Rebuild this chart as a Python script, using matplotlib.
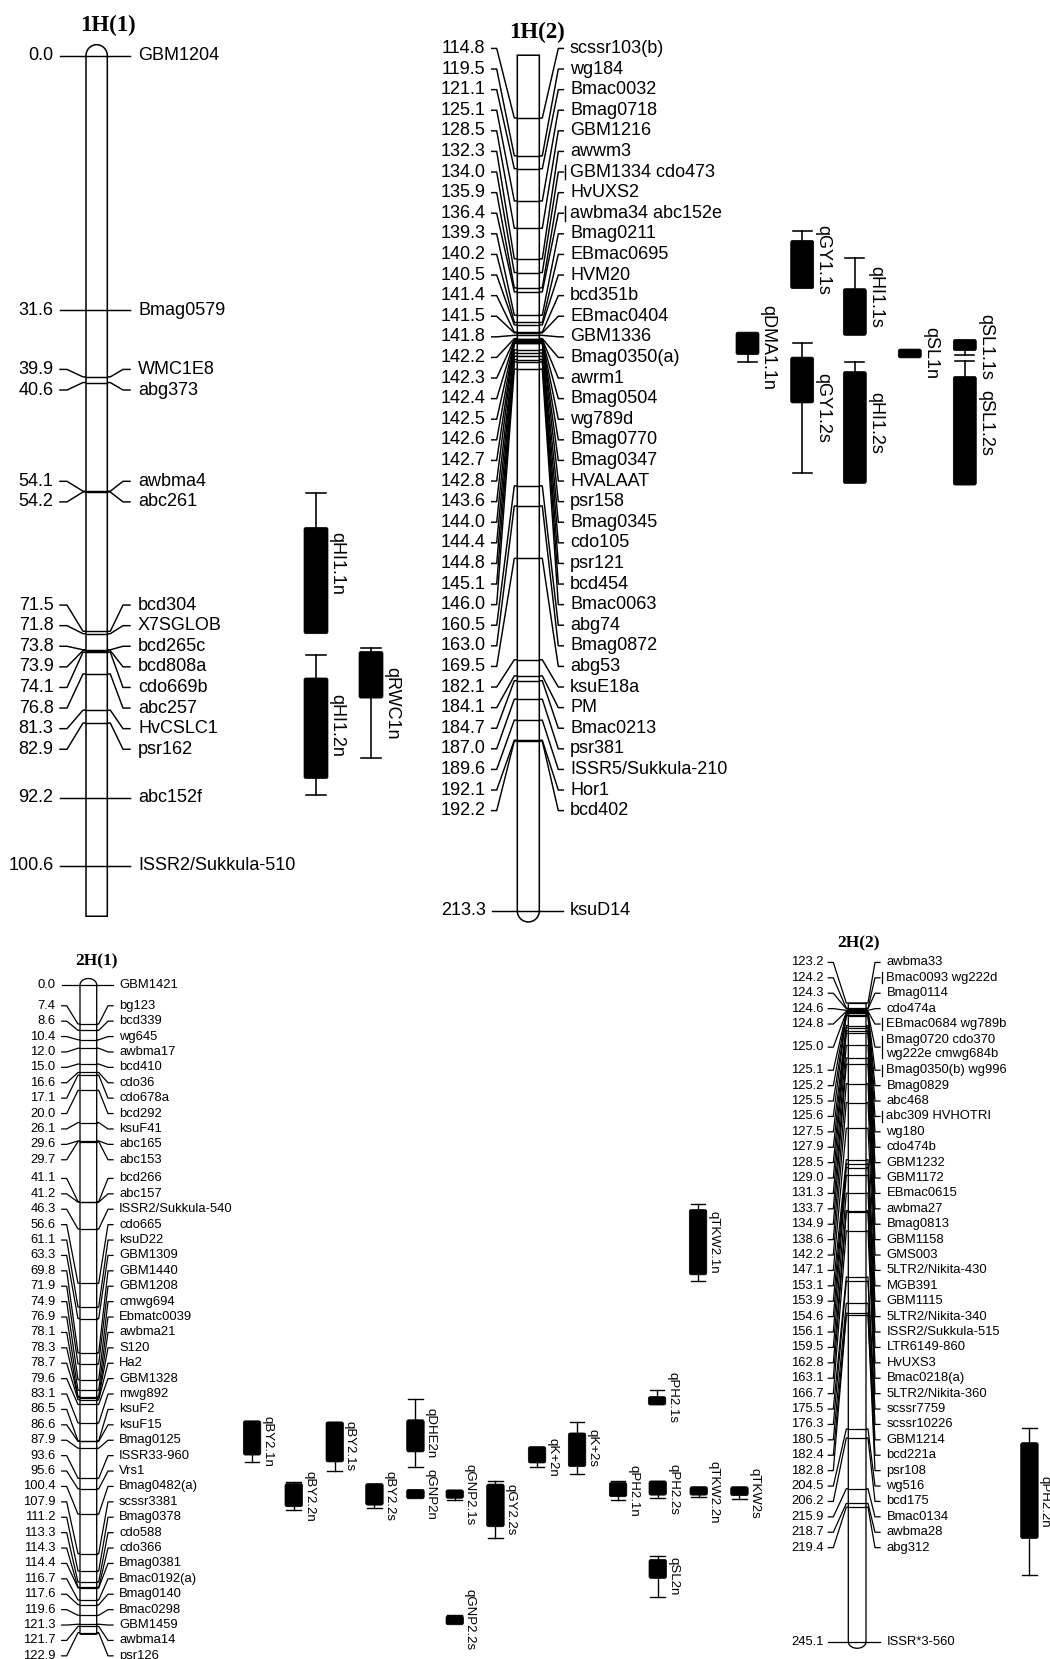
import numpy as np
import matplotlib
matplotlib.use("Agg")
import matplotlib.pyplot as plt
from matplotlib.patches import Polygon, FancyBboxPatch

plt.rcParams["font.family"] = ["Liberation Sans", "DejaVu Sans"]

# ================================
# 1. MARKER DATA (cM, name)
# ================================
h1a_pos = [0.0, 31.6, 39.9, 40.6, 54.1, 54.2, 71.5, 71.8, 73.8, 73.9, 74.1,
           76.8, 81.3, 82.9, 92.2, 100.6]
h1a_names = ["GBM1204", "Bmag0579", "WMC1E8", "abg373", "awbma4", "abc261",
             "bcd304", "X7SGLOB", "bcd265c", "bcd808a", "cdo669b", "abc257",
             "HvCSLC1", "psr162", "abc152f", "ISSR2/Sukkula-510"]

h1b_pos = [114.8, 119.5, 121.1, 125.1, 128.5, 132.3, 134.0, 135.9, 136.4, 139.3,
           140.2, 140.5, 141.4, 141.5, 141.8, 142.2, 142.3, 142.4, 142.5, 142.6,
           142.7, 142.8, 143.6, 144.0, 144.4, 144.8, 145.1, 146.0, 160.5, 163.0,
           169.5, 182.1, 184.1, 184.7, 187.0, 189.6, 192.1, 192.2, 213.3]
h1b_names = ["scssr103(b)", "wg184", "Bmac0032", "Bmag0718", "GBM1216", "awwm3",
             "GBM1334 cdo473", "HvUXS2", "awbma34 abc152e", "Bmag0211",
             "EBmac0695", "HVM20", "bcd351b", "EBmac0404", "GBM1336",
             "Bmag0350(a)", "awrm1", "Bmag0504", "wg789d", "Bmag0770",
             "Bmag0347", "HVALAAT", "psr158", "Bmag0345", "cdo105", "psr121",
             "bcd454", "Bmac0063", "abg74", "Bmag0872", "abg53", "ksuE18a", "PM",
             "Bmac0213", "psr381", "ISSR5/Sukkula-210", "Hor1", "bcd402", "ksuD14"]

h2a_pos = [0.0, 7.4, 8.6, 10.4, 12.0, 15.0, 16.6, 17.1, 20.0, 26.1, 29.6, 29.7,
           41.1, 41.2, 46.3, 56.6, 61.1, 63.3, 69.8, 71.9, 74.9, 76.9, 78.1, 78.3,
           78.7, 79.6, 83.1, 86.5, 86.6, 87.9, 93.6, 95.6, 100.4, 107.9, 111.2,
           113.3, 114.3, 114.4, 116.7, 117.6, 119.6, 121.3, 121.7, 122.9]
h2a_names = ["GBM1421", "bg123", "bcd339", "wg645", "awbma17", "bcd410", "cdo36",
             "cdo678a", "bcd292", "ksuF41", "abc165", "abc153", "bcd266", "abc157",
             "ISSR2/Sukkula-540", "cdo665", "ksuD22", "GBM1309", "GBM1440",
             "GBM1208", "cmwg694", "Ebmatc0039", "awbma21", "S120", "Ha2",
             "GBM1328", "mwg892", "ksuF2", "ksuF15", "Bmag0125", "ISSR33-960",
             "Vrs1", "Bmag0482(a)", "scssr3381", "Bmag0378", "cdo588", "cdo366",
             "Bmag0381", "Bmac0192(a)", "Bmag0140", "Bmac0298", "GBM1459",
             "awbma14", "psr126"]

h2b_pos = [123.2, 124.2, 124.3, 124.6, 124.8, 125.0, 125.1, 125.2, 125.5, 125.6,
           127.5, 127.9, 128.5, 129.0, 131.3, 133.7, 134.9, 138.6, 142.2, 147.1,
           153.1, 153.9, 154.6, 156.1, 159.5, 162.8, 163.1, 166.7, 175.5, 176.3,
           180.5, 182.4, 182.8, 204.5, 206.2, 215.9, 218.7, 219.4, 245.1]
h2b_names = ["awbma33", "Bmac0093 wg222d", "Bmag0114", "cdo474a",
             "EBmac0684 wg789b", "Bmag0720 cdo370\nwg222e cmwg684b",
             "Bmag0350(b) wg996", "Bmag0829", "abc468", "abc309 HVHOTRI", "wg180",
             "cdo474b", "GBM1232", "GBM1172", "EBmac0615", "awbma27", "Bmag0813",
             "GBM1158", "GMS003", "5LTR2/Nikita-430", "MGB391", "GBM1115",
             "5LTR2/Nikita-340", "ISSR2/Sukkula-515", "LTR6149-860", "HvUXS3",
             "Bmac0218(a)", "5LTR2/Nikita-360", "scssr7759", "scssr10226",
             "GBM1214", "bcd221a", "psr108", "wg516", "bcd175", "Bmac0134",
             "awbma28", "abg312", "ISSR*3-560"]

# chromosome segment extents (cM)
seg_start = [0.0, 107.0, 0.0, 123.2]
seg_end = [106.9, 213.3, 123.2, 245.1]

# ================================
# 2. QTL DATA (cM)
# ================================
nan = np.nan
qtl_names = ["qHI1.1n", "qHI1.2n", "qRWC1n",
             "qGY1.1s", "qHI1.1s", "qDMA1.1n", "qGY1.2s", "qHI1.2s", "qSL1n",
             "qSL1.1s", "qSL1.2s",
             "qBY2.1n", "qBY2.2n", "qBY2.1s", "qBY2.2s", "qDHE2n", "qGNP2n",
             "qGNP2.1s", "qGY2.2s", "qGNP2.2s", "qTKW2.1n", "qPH2.1s", "qK+2s",
             "qK+2n", "qPH2.1n", "qPH2.2s", "qTKW2.2n", "qTKW2s", "qSL2n",
             "qPH2.2n"]
qtl_map = [0] * 3 + [1] * 8 + [2] * 18 + [3]
box_lo = [58.6, 77.3, 74.0, 130.0, 136.0, 141.4, 144.5, 146.3, 143.5, 142.3, 146.9,
          82.7, 94.6, 82.9, 94.6, 82.5, 95.7, 95.8, 94.7, 119.7, 42.6, 78.1, 85.0,
          87.6, 94.4, 94.1, 95.2, 95.2, 109.0, 207.1]
box_hi = [71.8, 89.8, 79.8, 136.0, 141.8, 144.2, 150.2, 160.2, 144.6, 143.7, 160.4,
          89.2, 99.0, 90.5, 98.7, 88.6, 97.5, 97.4, 102.8, 121.4, 55.0, 79.7, 91.4,
          90.7, 97.1, 96.8, 96.8, 96.9, 112.6, 225.4]
wh_lo = [54.3, 74.5, 73.6, 128.8, 132.2, nan, 142.8, 145.1, nan, nan, 145.0,
         nan, 94.3, nan, nan, 78.6, nan, nan, 94.1, 119.5, 41.6, 76.9, 83.0,
         nan, 94.2, nan, nan, nan, 108.4, 204.4]
wh_hi = [nan, 91.8, 87.3, nan, nan, 145.1, 158.9, nan, nan, 144.2, nan,
         90.5, 99.6, 92.2, 99.3, 91.5, nan, 97.7, 105.0, nan, 56.2, nan, 92.7,
         91.5, 97.7, 97.4, 97.2, 97.6, 116.1, 232.4]

# ================================
# 3. LAYOUT (pixels)
# ================================
maps = [
    dict(title="1H(1)", pos=h1a_pos, names=h1a_names, c0=0.0, y0=55.7, scale=8.05,
         xl=86, xr=107.3, xa=60, xb=130, xnum=53.5, xname=138, gap=20.6,
         s1=7, s2=3, fs=13, cap="top", caph=11, lw=1.05,
         tx=108, ty=25, tfs=16.5, qw=24, qfs=13),
    dict(title="1H(2)", pos=h1b_pos, names=h1b_names, c0=114.8, y0=118, scale=8.05,
         xl=517.3, xr=539.3, xa=491.7, xb=563.3, xnum=485.5, xname=570, gap=20.6,
         s1=5, s2=3, fs=13, cap="bottom", caph=11, lw=1.05,
         tx=537, ty=32, tfs=16.5, qw=23, qfs=13),
    dict(title="2H(1)", pos=h2a_pos, names=h2a_names, c0=0.0, y0=985, scale=5.27,
         xl=80, xr=96.7, xa=61.7, xb=113, xnum=55.5, xname=119, gap=15.4,
         s1=5, s2=2, fs=9.4, cap="top", caph=6.5, lw=0.9,
         tx=96, ty=961, tfs=12.5, qw=17.5, qfs=9.5),
    dict(title="2H(2)", pos=h2b_pos, names=h2b_names, c0=123.2, y0=1003, scale=5.24,
         xl=848.3, xr=866, xa=828.3, xb=880, xnum=823.5, xname=886.5, gap=15.4,
         s1=5, s2=2, fs=9.4, cap="bottom", caph=6.5, lw=0.9,
         tx=858, ty=943, tfs=12.5, qw=17.5, qfs=9.5),
]

qtl_x = [304, 304, 359,
         790.7, 843.3, 736, 790.7, 843.3, 898.3, 953.3, 953.3,
         243.3, 285, 326, 365.7, 406.7, 406.7, 446, 486.7, 446, 689.3, 648.3,
         568.3, 528.3, 609.3, 649, 690, 730.7, 649, 1020.7]


def to_y(m, cm):
    return m["y0"] + (cm - m["c0"]) * m["scale"]


def spread(targets, sizes, gap):
    # labels that would overlap are stacked and centred on the
    # midpoint of the markers they belong to
    groups = [[i] for i in range(len(targets))]

    def place(g):
        h = sum(sizes[i] for i in g) * gap
        top = (targets[g[0]] + targets[g[-1]]) / 2 - h / 2
        out = []
        for i in g:
            out.append(top + sizes[i] * gap / 2)
            top += sizes[i] * gap
        return out

    changed = True
    while changed:
        changed = False
        for k in range(len(groups) - 1):
            a, b = groups[k], groups[k + 1]
            pa, pb = place(a), place(b)
            if pa[-1] + sizes[a[-1]] * gap / 2 > pb[0] - sizes[b[0]] * gap / 2 + 1e-6:
                groups[k] = a + b
                del groups[k + 1]
                changed = True
                break
    ys = []
    for g in groups:
        ys += place(g)
    return ys


# ================================
# 4. DRAW
# ================================
fig = plt.figure(figsize=(10.5, 16.59), dpi=100)
ax = fig.add_axes([0, 0, 1, 1])
ax.set_xlim(0, 1050)
ax.set_ylim(1659, 0)
ax.axis("off")

for k, m in enumerate(maps):
    ym = [to_y(m, p) for p in m["pos"]]
    sizes = [n.count("\n") + 1 for n in m["names"]]
    yl = spread(ym, sizes, m["gap"])
    lw = m["lw"]

    # chromosome body with one rounded end
    ytop, ybot = to_y(m, seg_start[k]), to_y(m, seg_end[k])
    xc, hw = (m["xl"] + m["xr"]) / 2, (m["xr"] - m["xl"]) / 2
    if m["cap"] == "top":
        t = np.linspace(np.pi, 0, 30)
        arc = np.column_stack([xc + hw * np.cos(t), ytop - m["caph"] * np.sin(t)])
        pts = np.vstack([[m["xl"], ybot], arc, [m["xr"], ybot]])
    else:
        t = np.linspace(0, np.pi, 30)
        arc = np.column_stack([xc + hw * np.cos(t), ybot + m["caph"] * np.sin(t)])
        pts = np.vstack([[m["xr"], ytop], arc, [m["xl"], ytop]])
    ax.add_patch(Polygon(pts, closed=True, fc="white", ec="black", lw=lw * 1.05, zorder=3))

    for p, y, l, name, sz in zip(m["pos"], ym, yl, m["names"], sizes):
        ax.plot([m["xa"], m["xa"] + m["s1"], m["xl"] - m["s2"], m["xl"]],
                [l, l, y, y], color="black", lw=lw, zorder=2)
        ax.plot([m["xr"], m["xr"] + m["s2"], m["xb"] - m["s1"], m["xb"]],
                [y, y, l, l], color="black", lw=lw, zorder=2)
        ax.plot([m["xl"], m["xr"]], [y, y], color="black", lw=lw, zorder=4)
        ax.text(m["xnum"], l, f"{p:.1f}", ha="right", va="center",
                fontsize=m["fs"], color="black")
        ax.text(m["xname"], l, name, ha="left", va="center", fontsize=m["fs"],
                color="black", linespacing=1.2)
        if " " in name:
            half = sz * m["gap"] * 0.36
            ax.plot([m["xb"] + 1.5, m["xb"] + 1.5], [l - half, l + half],
                    color="black", lw=lw, zorder=2)

    ax.text(m["tx"], m["ty"], m["title"], ha="center", va="center",
            fontsize=m["tfs"], fontweight="bold", family="Liberation Serif")

# ---- QTL intervals ----
for i, name in enumerate(qtl_names):
    m = maps[qtl_map[i]]
    w = m["qw"]
    x = qtl_x[i]
    y_lo, y_hi = to_y(m, box_lo[i]), to_y(m, box_hi[i])
    ax.add_patch(FancyBboxPatch((x, y_lo), w, y_hi - y_lo,
                                boxstyle="round,pad=0,rounding_size=2",
                                fc="black", ec="black", lw=0.5, zorder=3))
    xc = x + w / 2
    cw = w * 0.42
    span = [y_lo, y_hi]
    for wv, yb in ((wh_lo[i], y_lo), (wh_hi[i], y_hi)):
        if not np.isnan(wv):
            yw = to_y(m, wv)
            ax.plot([xc, xc], [yw, yb], color="black", lw=m["lw"] * 1.1, zorder=3)
            ax.plot([xc - cw, xc + cw], [yw, yw], color="black", lw=m["lw"] * 1.1, zorder=3)
            span.append(yw)
    ax.text(x + w + 0.5, (min(span) + max(span)) / 2, name, rotation=-90,
            ha="left", va="center", fontsize=m["qfs"], color="black")

fig.savefig("out.png", dpi=100)
